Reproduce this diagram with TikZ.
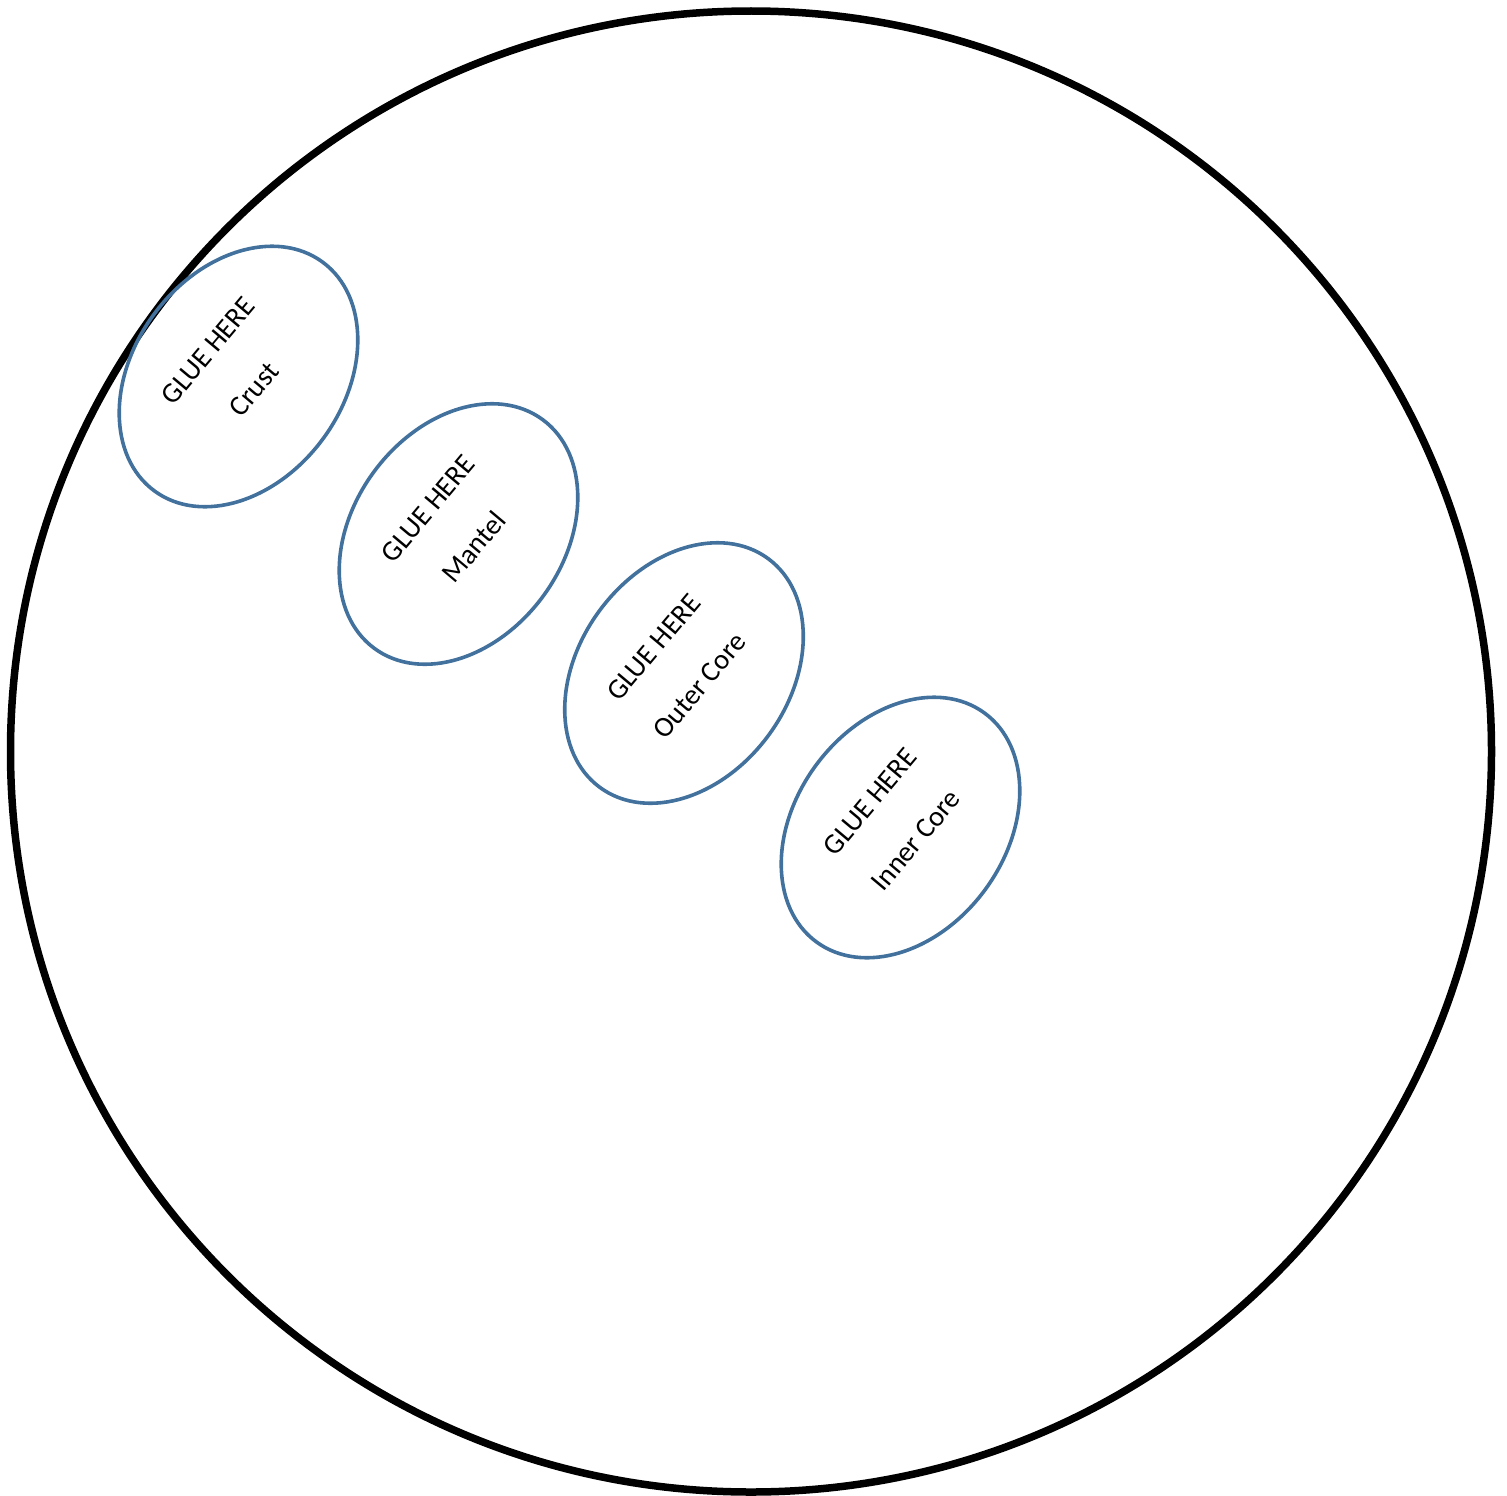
\documentclass[tikz,border=0pt]{standalone}
\usepackage{fontspec}
\setmainfont{Carlito}
\usetikzlibrary{shapes.geometric}
\definecolor{ovalblue}{HTML}{41719C}
\tikzset{
  glueoval/.style={ellipse, draw=ovalblue, line width=3.6pt, inner sep=0pt,
    minimum width=284pt, minimum height=210pt, rotate=53.7},
  gluetext/.style={rotate=50, align=center, inner sep=0pt,
    font=\fontsize{28.5}{34}\selectfont}
}
\begin{document}
\begin{tikzpicture}[x=1pt,y=-1pt]
\useasboundingbox (0,0) rectangle (1507,1496);
\node[circle, draw=black, line width=7.5pt, minimum size=1481pt, inner sep=0pt] (earth) at (751,751.5) {};
\node[glueoval] (crust) at (238.5,376.5) {};
\node[glueoval] (mantel) at (458.5,534) {};
\node[glueoval] (outer) at (684,673) {};
\node[glueoval] (inner) at (900.5,827.5) {};
\node[gluetext] (crustlbl) at (231,370) {GLUE HERE\\[26pt]Crust};
\node[gluetext] (mantellbl) at (451,528) {GLUE HERE\\[26pt]Mantel};
\node[gluetext] (outerlbl) at (676.5,666.5) {GLUE HERE\\[26pt]Outer Core};
\node[gluetext] (innerlbl) at (893,821) {GLUE HERE\\[26pt]Inner Core};
\end{tikzpicture}
\end{document}
